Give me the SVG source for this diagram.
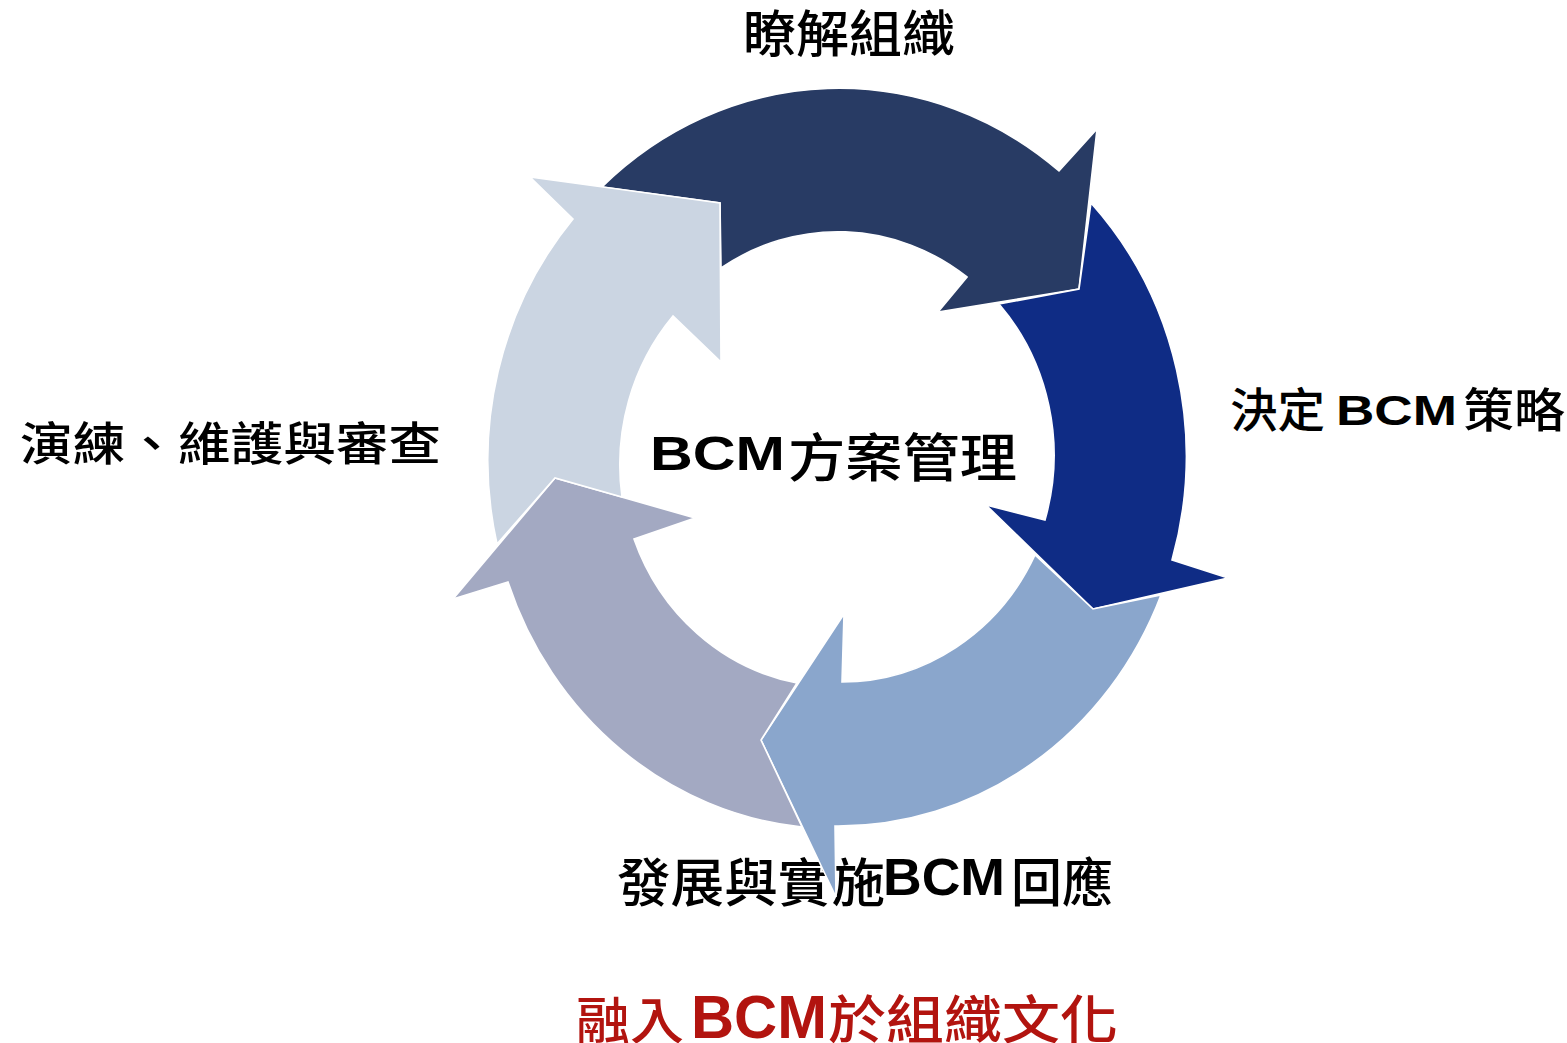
<svg xmlns="http://www.w3.org/2000/svg" width="1567" height="1043" viewBox="0 0 1567 1043">
<style>
.cjk{font-family:"Noto Sans CJK TC","Noto Sans CJK SC",sans-serif;font-weight:500;fill:#000}
.lat{font-family:"Liberation Sans",Arial,sans-serif;font-weight:bold;fill:#000}
.red{fill:#B2140F}
.arr{stroke:#fff;stroke-width:1.6;stroke-linejoin:miter}
</style>
<rect width="1567" height="1043" fill="#fff"/>
<g id="node-understand">
<text class="cjk" x="743" y="52" font-size="50" textLength="212" lengthAdjust="spacingAndGlyphs">瞭解組織</text>
</g>
<g id="node-strategy">
<text class="cjk" x="1230" y="427" font-size="47" textLength="95" lengthAdjust="spacingAndGlyphs">決定</text>
<text class="lat" x="1336" y="425" font-size="42" textLength="121" lengthAdjust="spacingAndGlyphs">BCM</text>
<text class="cjk" x="1463" y="427" font-size="47" textLength="102" lengthAdjust="spacingAndGlyphs">策略</text>
</g>
<g id="node-exercise">
<text class="cjk" x="20" y="460" font-size="46" textLength="421" lengthAdjust="spacingAndGlyphs">演練、維護與審查</text>
</g>
<g id="node-center">
<text class="lat" x="650" y="470" font-size="49" textLength="135" lengthAdjust="spacingAndGlyphs">BCM</text>
<text class="cjk" x="788" y="477" font-size="52" textLength="229" lengthAdjust="spacingAndGlyphs">方案管理</text>
</g>
<g id="node-implement">
<text class="cjk" x="617" y="902" font-size="52" textLength="268" lengthAdjust="spacingAndGlyphs">發展與實施</text>
<text class="lat" x="883" y="895" font-size="51" textLength="122" lengthAdjust="spacingAndGlyphs">BCM</text>
<text class="cjk" x="1011" y="902" font-size="52" textLength="102" lengthAdjust="spacingAndGlyphs">回應</text>
</g>
<g id="node-embed">
<text class="cjk red" x="576" y="1039" font-size="50" textLength="108" lengthAdjust="spacingAndGlyphs">融入</text>
<text class="lat red" x="691" y="1038" font-size="62" textLength="136" lengthAdjust="spacingAndGlyphs">BCM</text>
<text class="cjk red" x="828" y="1039" font-size="52" textLength="290" lengthAdjust="spacingAndGlyphs">於組織文化</text>
</g>
<g id="connectors">
<path class="arr" fill="#283B64" d="M602,187 A348,368 0 0 1 1059,171 L1097,129 L1079,289 L938,312 L967,277 A215,226 0 0 0 721,268 L720,203 Z"/>
<path class="arr" fill="#0F2C85" d="M1091,203 A348,368 0 0 1 1172,560 L1228,578 L1093,609 L986,505 L1045,520 A215,226 0 0 0 999,304 L1079,289 Z"/>
<path class="arr" fill="#8AA6CC" d="M1161,595 A348,368 0 0 1 835,826 L836,897 L761,740 L844,614 L842,682 A215,226 0 0 0 1035,555 L1093,609 Z"/>
<path class="arr" fill="#A3A9C2" d="M802,827 A348,368 0 0 1 508,582 L453,599 L555,478 L695,518 L634,539 A215,226 0 0 0 797,683 L761,740 Z"/>
<path class="arr" fill="#CBD5E2" d="M497,544 A348,368 0 0 1 573,219 L530,177 L720,203 L721,362 L673,316 A215,226 0 0 0 622,497 L555,478 Z"/>
</g>
</svg>
